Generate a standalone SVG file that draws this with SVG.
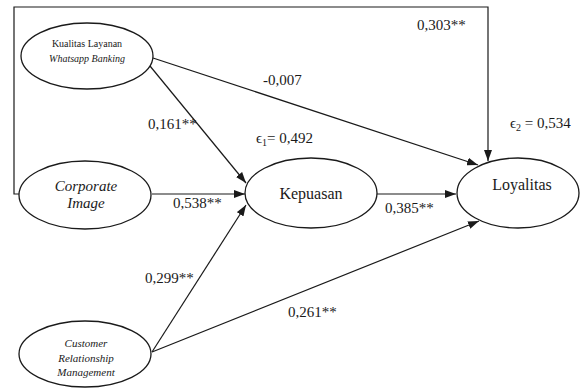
<svg xmlns="http://www.w3.org/2000/svg" width="580" height="388" viewBox="0 0 580 388">
<style>
.n{fill:#fff;stroke:#1a1a1a;stroke-width:1.3}
.c{fill:none;stroke:#1a1a1a;stroke-width:1.2}
.t{font-family:'Liberation Serif','DejaVu Serif',serif;fill:#1a1a1a;text-anchor:middle}
.l{font-family:'Liberation Serif','DejaVu Serif',serif;fill:#1a1a1a;font-size:15px}
</style>
<defs>
<marker id="ah" markerWidth="11" markerHeight="8" refX="11" refY="4" orient="auto" markerUnits="userSpaceOnUse">
<path d="M0,0 L11,4 L0,8 z" fill="#1a1a1a"/>
</marker>
</defs>
<rect width="580" height="388" fill="#fff"/>
<g id="connectors">
<path class="c" d="M19,194 H14 V7 H488 V161" marker-end="url(#ah)"/>
<line class="c" x1="153" y1="58" x2="478" y2="165" marker-end="url(#ah)"/>
<line class="c" x1="150" y1="66" x2="246" y2="183" marker-end="url(#ah)"/>
<line class="c" x1="152" y1="194" x2="245" y2="194" marker-end="url(#ah)"/>
<line class="c" x1="152" y1="352" x2="246" y2="205" marker-end="url(#ah)"/>
<line class="c" x1="152" y1="352" x2="479" y2="221" marker-end="url(#ah)"/>
<line class="c" x1="377" y1="194" x2="456" y2="194" marker-end="url(#ah)"/>
</g>
<g id="kualitas">
<ellipse class="n" cx="87" cy="56" rx="66" ry="33"/>
<text class="t" x="87" y="47" font-size="10">Kualitas Layanan</text>
<text class="t" x="87" y="62" font-size="10" font-style="italic">Whatsapp Banking</text>
</g>
<g id="corporate">
<ellipse class="n" cx="85" cy="195" rx="66" ry="34"/>
<text class="t" x="86" y="191" font-size="15" font-style="italic">Corporate</text>
<text class="t" x="86" y="208" font-size="15" font-style="italic">Image</text>
</g>
<g id="crm">
<ellipse class="n" cx="85" cy="354" rx="66" ry="33"/>
<text class="t" x="86" y="347" font-size="11" font-style="italic">Customer</text>
<text class="t" x="86" y="362" font-size="11" font-style="italic">Relationship</text>
<text class="t" x="86" y="376" font-size="11" font-style="italic">Management</text>
</g>
<g id="kepuasan">
<ellipse class="n" cx="311" cy="193" rx="66" ry="35"/>
<text class="t" x="311" y="199" font-size="16">Kepuasan</text>
</g>
<g id="loyalitas">
<ellipse class="n" cx="518" cy="193" rx="61" ry="35"/>
<text class="t" x="522" y="190" font-size="16">Loyalitas</text>
</g>
<g id="labels">
<text class="l" x="417" y="30">0,303**</text>
<text class="l" x="263" y="85">-0,007</text>
<text class="l" x="148" y="129">0,161**</text>
<text class="l" x="256" y="143">ϵ<tspan font-size="10" dy="3">1</tspan><tspan dy="-3">= 0,492</tspan></text>
<text class="l" x="510" y="128">ϵ<tspan font-size="10" dy="3">2</tspan><tspan dy="-3"> = 0,534</tspan></text>
<text class="l" x="173" y="208">0,538**</text>
<text class="l" x="385" y="213">0,385**</text>
<text class="l" x="145" y="283">0,299**</text>
<text class="l" x="288" y="317">0,261**</text>
</g>
</svg>
